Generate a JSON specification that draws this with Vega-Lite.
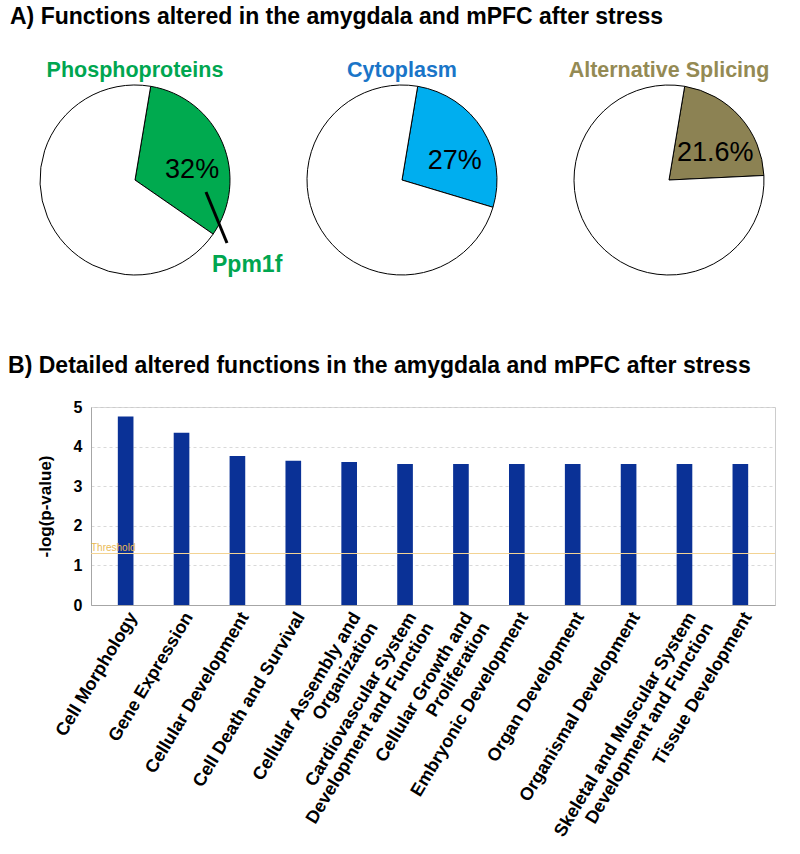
{
  "$schema": "https://vega.github.io/schema/vega-lite/v6.json",
  "padding": {"left": 7, "top": 5, "right": 5, "bottom": 5},
  "config": {
    "font": "Liberation Sans",
    "view": {"stroke": null},
    "title": {"fontWeight": "bold", "color": "black"}
  },
  "datasets": {
    "pies": [
      {"chart": "Phosphoproteins", "part": "altered", "pct": 32, "label": "32%"},
      {"chart": "Phosphoproteins", "part": "other", "pct": 68, "label": ""},
      {"chart": "Cytoplasm", "part": "altered", "pct": 27, "label": "27%"},
      {"chart": "Cytoplasm", "part": "other", "pct": 73, "label": ""},
      {"chart": "Alternative Splicing", "part": "altered", "pct": 21.6, "label": "21.6%"},
      {"chart": "Alternative Splicing", "part": "other", "pct": 78.4, "label": ""}
    ],
    "bars": [
      {"function": "Cell Morphology", "value": 4.76},
      {"function": "Gene Expression", "value": 4.35},
      {"function": "Cellular Development", "value": 3.76},
      {"function": "Cell Death and Survival", "value": 3.64},
      {"function": "Cellular Assembly and\nOrganization", "value": 3.61},
      {"function": "Cardiovascular System\nDevelopment and Function", "value": 3.56},
      {"function": "Cellular Growth and\nProliferation", "value": 3.56},
      {"function": "Embryonic Development", "value": 3.56},
      {"function": "Organ Development", "value": 3.56},
      {"function": "Organismal Development", "value": 3.56},
      {"function": "Skeletal and Muscular System\nDevelopment and Function", "value": 3.56},
      {"function": "Tissue Development", "value": 3.56}
    ]
  },
  "spacing": 76,
  "vconcat": [
    {
      "title": {"text": "A) Functions altered in the amygdala and mPFC after stress", "anchor": "start", "dx": -28, "fontSize": 23, "offset": 31},
      "bounds": "flush",
      "spacing": 179,
      "resolve": {"scale": {"color": "independent", "theta": "independent"}},
      "hconcat": [
        {
          "width": 88, "height": 190,
          "title": {"text": "Phosphoproteins", "color": "#00a650", "fontSize": 21.5, "offset": 2},
          "data": {"name": "pies"},
          "transform": [{"filter": "datum.chart === 'Phosphoproteins'"}],
          "layer": [
            {
              "mark": {"type": "arc", "outerRadius": 95, "stroke": "black", "strokeWidth": 1},
              "encoding": {
                "theta": {"field": "pct", "type": "quantitative", "stack": true, "scale": {"range": [0.166, 6.449]}},
                "order": {"field": "part", "type": "nominal", "sort": "ascending"},
                "color": {"field": "part", "type": "nominal", "scale": {"domain": ["altered", "other"], "range": ["#00aa4f", "#ffffff"]}, "legend": null}
              }
            },
            {
              "mark": {"type": "text", "radius": 62, "dy": 14, "fontSize": 27, "color": "black"},
              "encoding": {
                "theta": {"field": "pct", "type": "quantitative", "stack": true},
                "order": {"field": "part", "type": "nominal", "sort": "ascending"},
                "text": {"field": "label"}
              }
            },
            {
              "data": {"values": [{}]},
              "mark": {"type": "rule", "strokeWidth": 3, "color": "black"},
              "encoding": {
                "x": {"datum": 0.747, "type": "quantitative", "scale": {"domain": [-0.463, 0.463], "nice": false, "zero": false}, "axis": null},
                "y": {"datum": -0.126, "type": "quantitative", "scale": {"domain": [-1, 1], "nice": false, "zero": false}, "axis": null},
                "x2": {"datum": 0.968},
                "y2": {"datum": -0.663}
              }
            },
            {
              "data": {"values": [{}]},
              "mark": {"type": "text", "fontSize": 23, "fontWeight": "bold", "color": "#00a650"},
              "encoding": {
                "x": {"datum": 1.18, "type": "quantitative", "axis": null},
                "y": {"datum": -0.895, "type": "quantitative", "axis": null},
                "text": {"value": "Ppm1f"}
              }
            }
          ]
        },
        {
          "width": 88, "height": 190,
          "title": {"text": "Cytoplasm", "color": "#1a75c8", "fontSize": 21.5, "offset": 2},
          "data": {"name": "pies"},
          "transform": [{"filter": "datum.chart === 'Cytoplasm'"}],
          "layer": [
            {
              "mark": {"type": "arc", "outerRadius": 95, "stroke": "black", "strokeWidth": 1},
              "encoding": {
                "theta": {"field": "pct", "type": "quantitative", "stack": true, "scale": {"range": [0.166, 6.449]}},
                "order": {"field": "part", "type": "nominal", "sort": "ascending"},
                "color": {"field": "part", "type": "nominal", "scale": {"domain": ["altered", "other"], "range": ["#00aeef", "#ffffff"]}, "legend": null}
              }
            },
            {
              "mark": {"type": "text", "radius": 62, "dy": 14, "fontSize": 27, "color": "black"},
              "encoding": {
                "theta": {"field": "pct", "type": "quantitative", "stack": true},
                "order": {"field": "part", "type": "nominal", "sort": "ascending"},
                "text": {"field": "label"}
              }
            }
          ]
        },
        {
          "width": 88, "height": 190,
          "title": {"text": "Alternative Splicing", "color": "#948a54", "fontSize": 21.5, "offset": 2},
          "data": {"name": "pies"},
          "transform": [{"filter": "datum.chart === 'Alternative Splicing'"}],
          "layer": [
            {
              "mark": {"type": "arc", "outerRadius": 95, "stroke": "black", "strokeWidth": 1},
              "encoding": {
                "theta": {"field": "pct", "type": "quantitative", "stack": true, "scale": {"range": [0.166, 6.449]}},
                "order": {"field": "part", "type": "nominal", "sort": "ascending"},
                "color": {"field": "part", "type": "nominal", "scale": {"domain": ["altered", "other"], "range": ["#8c8253", "#ffffff"]}, "legend": null}
              }
            },
            {
              "mark": {"type": "text", "radius": 62, "dy": 14, "fontSize": 27, "color": "black"},
              "encoding": {
                "theta": {"field": "pct", "type": "quantitative", "stack": true},
                "order": {"field": "part", "type": "nominal", "sort": "ascending"},
                "text": {"field": "label"}
              }
            }
          ]
        }
      ]
    },
    {
      "width": 684, "height": 198,
      "view": {"stroke": "#cccccc"},
      "title": {"text": "B) Detailed altered functions in the amygdala and mPFC after stress", "anchor": "start", "dx": -28, "fontSize": 23, "offset": 21},
      "data": {"name": "bars"},
      "layer": [
        {
          "mark": {"type": "bar", "color": "#0a3196"},
          "encoding": {
            "x": {
              "field": "function", "type": "nominal", "sort": null,
              "scale": {"paddingInner": 0.72, "paddingOuter": 0.48},
              "axis": {"title": null, "labelAngle": -59, "labelFontSize": 18, "labelFontWeight": "bold", "labelColor": "black", "ticks": false, "labelPadding": 4, "labelBaseline": "top", "labelAlign": "right", "labelExpr": "split(datum.label, '\\n')", "labelLineHeight": 20, "labelLimit": 0, "labelOverlap": false, "domainColor": "#a6a6a6"}
            },
            "y": {
              "field": "value", "type": "quantitative",
              "scale": {"domain": [0, 5], "nice": false},
              "axis": {"title": "-log(p-value)", "titleFontSize": 17, "titleFontWeight": "bold", "titleColor": "black", "titlePadding": 19, "labelFontSize": 16, "labelFontWeight": "bold", "labelColor": "black", "ticks": false, "labelPadding": 9, "values": [0, 1, 2, 3, 4, 5], "labelOverlap": false, "grid": true, "gridDash": [3, 3], "gridColor": "#d9d9d9", "domainColor": "#a6a6a6"}
            }
          }
        },
        {
          "data": {"values": [{}]},
          "mark": {"type": "rule", "color": "#f3d393", "strokeWidth": 1.2},
          "encoding": {
            "y": {"datum": 1.3, "type": "quantitative",
              "axis": {"title": "-log(p-value)", "titleFontSize": 17, "titleFontWeight": "bold", "titleColor": "black", "titlePadding": 19, "labelFontSize": 16, "labelFontWeight": "bold", "labelColor": "black", "ticks": false, "labelPadding": 9, "values": [0, 1, 2, 3, 4, 5], "labelOverlap": false, "grid": true, "gridDash": [3, 3], "gridColor": "#d9d9d9", "domainColor": "#a6a6a6"}}
          }
        },
        {
          "data": {"values": [{}]},
          "mark": {"type": "text", "text": "Threshold", "align": "left", "baseline": "bottom", "fontSize": 10, "color": "#e9b955", "dy": -1},
          "encoding": {
            "y": {"datum": 1.3, "type": "quantitative",
              "axis": {"title": "-log(p-value)", "titleFontSize": 17, "titleFontWeight": "bold", "titleColor": "black", "titlePadding": 19, "labelFontSize": 16, "labelFontWeight": "bold", "labelColor": "black", "ticks": false, "labelPadding": 9, "values": [0, 1, 2, 3, 4, 5], "labelOverlap": false, "grid": true, "gridDash": [3, 3], "gridColor": "#d9d9d9", "domainColor": "#a6a6a6"}},
            "x": {"value": 0}
          }
        }
      ]
    }
  ]
}
